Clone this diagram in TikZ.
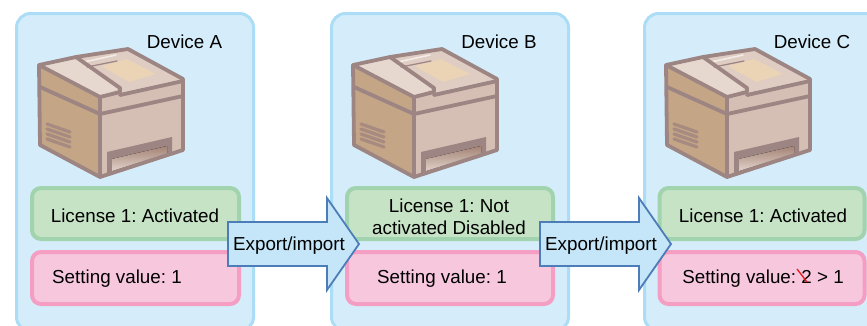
\documentclass[tikz,border=0pt]{standalone}
\usepackage{fontspec}
\setmainfont{Liberation Sans}
\frenchspacing
\definecolor{panelfill}{HTML}{D5EDFA}
\definecolor{panelline}{HTML}{ABDDF6}
\definecolor{licfill}{HTML}{C6E3C6}
\definecolor{licline}{HTML}{A1D4AE}
\definecolor{setfill}{HTML}{F7C8DD}
\definecolor{setline}{HTML}{F39EC2}
\definecolor{arrfill}{HTML}{C5E6F8}
\definecolor{arrline}{HTML}{4C7DB8}
\definecolor{prline}{HTML}{9C8582}
\definecolor{prside}{HTML}{C4A586}
\definecolor{prfront}{HTML}{D5BEB3}
\definecolor{prtop}{HTML}{DFCCC3}
\definecolor{prrail}{HTML}{E7D8CF}
\definecolor{pradf}{HTML}{EBD4B6}
\definecolor{prvent}{HTML}{A88B80}
\definecolor{strike}{HTML}{E8191E}
\begin{document}
\begin{tikzpicture}[x=1pt,y=-1pt,
  panel/.style={draw=panelline, fill=panelfill, line width=3pt, rounded corners=14pt},
  licbox/.style={draw=licline, fill=licfill, line width=4pt, rounded corners=9pt},
  setbox/.style={draw=setline, fill=setfill, line width=4pt, rounded corners=9pt},
  xfer/.style={draw=arrline, fill=arrfill, line width=1.8pt, line join=miter},
  lbl/.style={font=\fontsize{18.8}{22.5}\selectfont, inner sep=0pt, text=black},
  outline/.style={draw=prline, line width=3.8pt, line join=round, line cap=round},
  printer/.pic={
    % faces
    \fill[prside]  (39,65) -- (100,97) -- (100,177) -- (40,145) -- cycle;
    \fill[prfront] (100,97) -- (183,79) -- (183,150) -- (100,177) -- cycle;
    \fill[prtop]   (39,65) -- (76,57) -- (128,49) -- (183,79) -- (100,97) -- cycle;
    \fill[prrail]  (39,65) -- (76,57) -- (120,88) -- (100,97) -- cycle;
    \fill[pradf]   (101,66) -- (127,59) -- (156,74) -- (129,82) -- cycle;
    \draw[white!60!prtop, line width=1.6pt, line cap=round] (84,62) -- (116,55);
    \draw[prline, line width=1.2pt, line cap=round] (87,67) -- (117,61);
    % side vents
    \foreach \k in {0,1,2,3}
      \draw[prvent, line width=3.2pt, line cap=round] (47,124+5*\k) -- (70,132+5*\k);
    % paper tray
    \fill[prline] (107,152) -- (172,137) -- (172,154) -- (107,175) -- cycle;
    \fill[top color=prline!80!brown, bottom color=prfront!70!white]
      (112,159) -- (167,146) -- (167,154) -- (112,171) -- cycle;
    % edges
    \draw[outline] (39,65) -- (76,57) -- (128,49) -- (183,79) -- (183,150)
      -- (100,177) -- (40,145) -- cycle;
    \draw[outline] (39,65) -- (100,97) -- (100,177);
    \draw[outline] (100,97) -- (120,92) -- (120,88) -- (76,57);
    \draw[outline] (120,95) -- (183,81);
    \draw[outline] (40,87) -- (100,114) -- (183,96);
  }]
\useasboundingbox (0,0) rectangle (867,325);
\clip (0,0) rectangle (867,325);

% device panels
\node[panel, minimum width=237pt, minimum height=317.5pt] (panA) at (135,172.25) {};
\node[panel, minimum width=237pt, minimum height=317.5pt] (panB) at (450,172.25) {};
\node[panel, minimum width=237pt, minimum height=317.5pt] (panC) at (763,172.25) {};

% device names
\node[lbl, anchor=base] (nameA) at (184.5,48) {Device A};
\node[lbl, anchor=base] (nameB) at (499,48) {Device B};
\node[lbl, anchor=base] (nameC) at (812,48) {Device C};

% printers
\pic at (0,0) {printer};
\pic at (314,0) {printer};
\pic at (627,0) {printer};

% license boxes
\node[licbox, minimum width=207pt, minimum height=51pt] (licA) at (135.5,213.5) {};
\node[licbox, minimum width=206pt, minimum height=51pt] (licB) at (450,213.5) {};
\node[licbox, minimum width=205pt, minimum height=51pt] (licC) at (762,213.5) {};
\node[lbl, anchor=base] (licAtext) at (135,222) {License 1: Activated};
\node[lbl, anchor=base] (licBtext1) at (449,212) {License 1: Not};
\node[lbl, anchor=base] (licBtext2) at (449,234) {activated Disabled};
\node[lbl, anchor=base] (licCtext) at (763,222) {License 1: Activated};

% setting boxes
\node[setbox, minimum width=207pt, minimum height=52pt] (setA) at (135.5,278) {};
\node[setbox, minimum width=206pt, minimum height=52pt] (setB) at (450,278) {};
\node[setbox, minimum width=205pt, minimum height=52pt] (setC) at (762,278) {};
\node[lbl, anchor=base west] (setAtext) at (52,283) {Setting value: 1};
\node[lbl, anchor=base west] (setBtext) at (377,283) {Setting value: 1};
\node[lbl, anchor=base] (setCtext) at (763,283) {Setting value: 2 > 1};
\draw[strike, line width=1.3pt] (797,269) -- (807,282);

% transfer arrows
\draw[xfer] (228,222) -- (327,222) -- (327,198) -- (359,244) -- (327,290)
  -- (327,266) -- (228,266) -- cycle;
\draw[xfer] (540,222) -- (639,222) -- (639,198) -- (671,244) -- (639,290)
  -- (639,266) -- (540,266) -- cycle;
\node[lbl, anchor=base] (xferAB) at (289,250) {Export/import};
\node[lbl, anchor=base] (xferBC) at (601,250) {Export/import};
\end{tikzpicture}
\end{document}
